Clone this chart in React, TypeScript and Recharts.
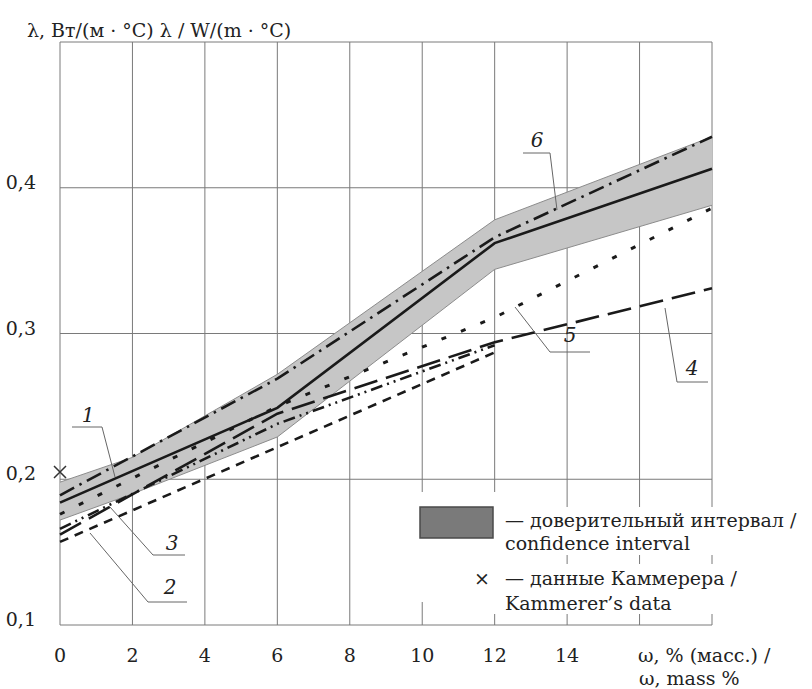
import { Area, CartesianGrid, ComposedChart, Line, Scatter, XAxis, YAxis } from 'recharts';

// moisture content, % (mass)
const xs = [0, 2, 6, 12, 18];
// confidence interval band
const bandLow = [0.172, 0.19, 0.229, 0.344, 0.388];
const bandHigh = [0.198, 0.215, 0.272, 0.378, 0.435];
// curves 1..6 (null = no point read there)
const curve1 = [0.184, null, 0.249, 0.362, 0.413];
const curve2 = [0.157, null, null, 0.287, null];
const curve3 = [0.166, null, 0.238, 0.292, null];
const curve4 = [0.162, null, 0.245, 0.294, 0.331];
const curve5 = [0.176, null, 0.25, 0.311, 0.386];
const curve6 = [0.189, null, 0.269, 0.366, 0.435];
// Kammerer's data
const kammerer = [{ x: 0, y: 0.205 }];

const xTicks = [0, 2, 4, 6, 8, 10, 12, 14, 16, 18];
const yTicks = [0.1, 0.2, 0.3, 0.4, 0.5];

const data = xs.map((x, i) => ({
    x,
    band: [bandLow[i], bandHigh[i]],
    c1: curve1[i],
    c2: curve2[i],
    c3: curve3[i],
    c4: curve4[i],
    c5: curve5[i],
    c6: curve6[i],
}));

const FONT = "'DejaVu Serif', serif";
const INK = '#222';
const txt = (size = 19, extra: any = {}) => ({ fontFamily: FONT, fontSize: size, fill: INK, ...extra });

const XTick = ({ x, y, payload }: any) =>
    payload.value <= 14 ? (
        <text x={x} y={y} dy={37} textAnchor="middle" style={txt()}>
            {payload.value}
        </text>
    ) : null;

const YTick = ({ x, y, payload }: any) =>
    payload.value < 0.45 ? (
        <text x={x} y={y} dy={1} textAnchor="end" style={txt()}>
            {payload.value.toFixed(1).replace('.', ',')}
        </text>
    ) : null;

const Cross = ({ cx, cy }: any) => (
    <path
        d={`M${cx - 6},${cy - 6}L${cx + 6},${cy + 6}M${cx + 6},${cy - 6}L${cx - 6},${cy + 6}`}
        stroke="#333"
        strokeWidth={1.5}
    />
);

const lineProps = { type: 'linear' as const, stroke: '#1a1a1a', strokeWidth: 2.6, dot: false, connectNulls: true, isAnimationActive: false };

export default function App() {
    return (
        <div style={{ position: 'absolute', left: 0, top: 0, width: 812, height: 689, background: '#fff' }}>
            <ComposedChart width={812} height={689} data={data} margin={{ top: 42, right: 100, left: 10, bottom: 34 }}>
                <CartesianGrid stroke="#7a7a7a" strokeWidth={1} />
                <XAxis
                    dataKey="x"
                    type="number"
                    domain={[0, 18]}
                    ticks={xTicks}
                    height={30}
                    axisLine={false}
                    tickLine={false}
                    tickSize={0}
                    tickMargin={0}
                    tick={<XTick />}
                    interval={0}
                />
                <YAxis
                    type="number"
                    domain={[0.1, 0.5]}
                    ticks={yTicks}
                    width={50}
                    axisLine={false}
                    tickLine={false}
                    tickSize={0}
                    tickMargin={24}
                    tick={<YTick />}
                    interval={0}
                />
                <Area
                    type="linear"
                    dataKey="band"
                    fill="#c6c6c6"
                    fillOpacity={1}
                    stroke="#8c8c8c"
                    strokeWidth={1}
                    isAnimationActive={false}
                />
                <Line {...lineProps} dataKey="c2" strokeDasharray="9 7" />
                <Line {...lineProps} dataKey="c3" strokeDasharray="12 5 2 5 2 5" />
                <Line {...lineProps} dataKey="c4" strokeDasharray="24 9" />
                <Line {...lineProps} dataKey="c5" strokeDasharray="5 16" strokeWidth={3} />
                <Line {...lineProps} dataKey="c6" strokeDasharray="16 6 2.5 6" />
                <Line {...lineProps} dataKey="c1" />
                <Scatter data={kammerer} dataKey="y" shape={<Cross />} isAnimationActive={false} />
            </ComposedChart>

            <svg width={812} height={689} style={{ position: 'absolute', left: 0, top: 0, pointerEvents: 'none' }}>
                {/* axis titles */}
                <text x={27} y={37} style={txt()}>λ, Вт/(м · °C) λ / W/(m · °C)</text>
                <text x={638} y={662} style={txt()}>ω, % (масс.) /</text>
                <text x={639} y={685} style={txt()}>ω, mass %</text>

                {/* legend */}
                <rect x={410} y={492} width={92} height={110} fill="#fff" />
                <rect x={500} y={507} width={312} height={48} fill="#fff" />
                <rect x={470} y={564} width={330} height={50} fill="#fff" />
                <rect x={420} y={507} width={73} height={31} fill="#7a7a7a" stroke="#4a4a4a" strokeWidth={1.5} />
                <text x={505} y={527} style={txt()}>— доверительный интервал /</text>
                <text x={505} y={550} style={txt()}>confidence interval</text>
                <text x={482} y={585} textAnchor="middle" style={txt()}>×</text>
                <text x={505} y={585} style={txt()}>— данные Каммерера /</text>
                <text x={505} y={610} style={txt()}>Kammerer’s data</text>

                {/* curve numbers with leaders */}
                <g stroke="#666" strokeWidth={1} fill="none">
                    <polyline points="72,427 102,427 115,477" />
                    <polyline points="185,555 153,555 110,507" />
                    <polyline points="187,602 148,602 90,533" />
                    <polyline points="523,153 550,153 557,210" />
                    <polyline points="515,307 550,352 590,352" />
                    <polyline points="665,308 677,382 708,382" />
                </g>
                <g>
                    <text x={88} y={422} textAnchor="middle" style={txt(20, { fontStyle: 'italic' })}>1</text>
                    <text x={172} y={550} textAnchor="middle" style={txt(20, { fontStyle: 'italic' })}>3</text>
                    <text x={170} y={594} textAnchor="middle" style={txt(20, { fontStyle: 'italic' })}>2</text>
                    <text x={537} y={147} textAnchor="middle" style={txt(20, { fontStyle: 'italic' })}>6</text>
                    <text x={570} y={342} textAnchor="middle" style={txt(20, { fontStyle: 'italic' })}>5</text>
                    <text x={692} y={375} textAnchor="middle" style={txt(20, { fontStyle: 'italic' })}>4</text>
                </g>
            </svg>
        </div>
    );
}
